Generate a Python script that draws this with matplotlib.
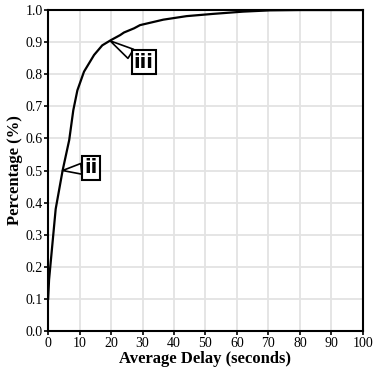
import matplotlib
matplotlib.use("Agg")
import matplotlib.pyplot as plt

delay = [0, 0.3, 2.4, 4.6, 6.7, 8.0, 9.3, 11.4, 14.6, 17.2, 19.9, 22.9, 24.1, 27.3, 29.2, 36.6, 44, 52.4, 61.9, 70.5, 80, 100]
pct = [0.1, 0.16, 0.38, 0.50, 0.595, 0.688, 0.75, 0.808, 0.86, 0.89, 0.906, 0.922, 0.93, 0.943, 0.953, 0.970, 0.981, 0.988, 0.995, 0.999, 1.0, 1.0]

x_ticks = list(range(0, 101, 10))
y_ticks = [i / 10 for i in range(11)]

callout_labels = ["ii", "iii"]
callout_tips = [(4.6, 0.50), (19.7, 0.904)]
callout_text = [(13.6, 0.508), (30.4, 0.838)]

plt.rcParams['font.family'] = ['Liberation Serif', 'DejaVu Serif']

fig = plt.figure(figsize=(3.76, 3.73), dpi=100)
ax = fig.add_axes([0.128, 0.1126, 0.837, 0.8605])
ax.plot(delay, pct, color='black', lw=1.6, solid_joinstyle='round')
ax.set_xlim(0, 100)
ax.set_ylim(0, 1.0)
ax.set_xticks(x_ticks)
ax.set_yticks(y_ticks)
ax.set_yticklabels([f"{v:.1f}" for v in y_ticks])
ax.grid(True, color='#e3e3e3', lw=1.3)
ax.set_axisbelow(True)
for s in ax.spines.values():
    s.set_linewidth(1.5)
ax.tick_params(labelsize=10, length=3, width=1.2, pad=1)
ax.set_xlabel("Average Delay (seconds)", fontsize=12, fontweight='bold', labelpad=1)
ax.set_ylabel("Percentage (%)", fontsize=12, fontweight='bold', labelpad=2)

for label, tip, pos in zip(callout_labels, callout_tips, callout_text):
    ax.annotate(label, xy=tip, xytext=pos, ha='center', va='center',
                fontsize=14, fontweight='bold', family='DejaVu Sans',
                bbox=dict(boxstyle='square,pad=0.12', fc='white', ec='black', lw=1.5),
                arrowprops=dict(arrowstyle='wedge,tail_width=0.55,shrink_factor=0.5',
                                fc='white', ec='black', lw=1.2, shrinkA=0, shrinkB=0))

fig.savefig("out.png", dpi=100)
